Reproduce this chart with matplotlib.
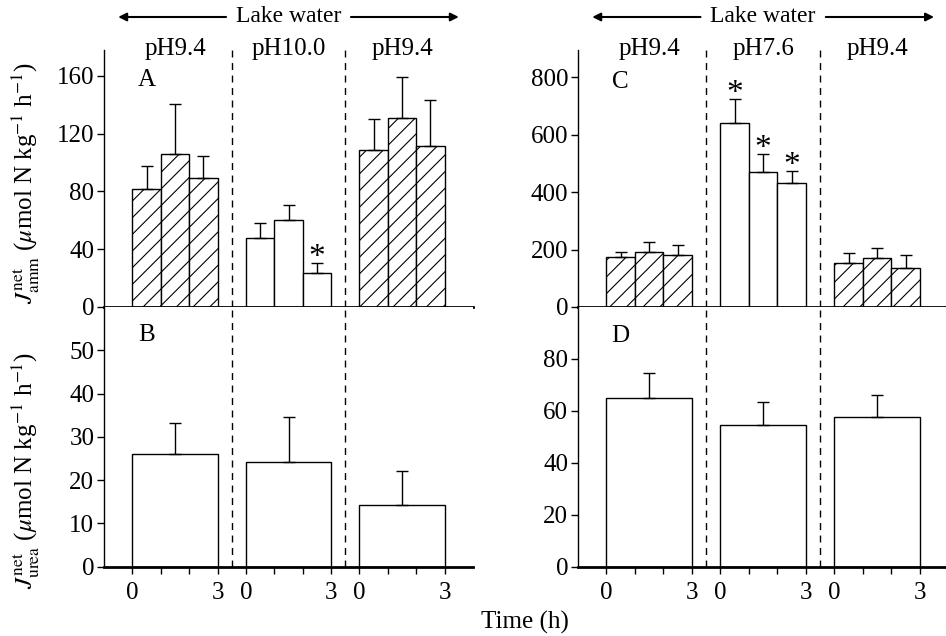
import matplotlib
matplotlib.use("Agg")
import matplotlib.pyplot as plt
import matplotlib.transforms as mtransforms
import numpy as np

plt.rcParams['font.family'] = ['Liberation Serif', 'DejaVu Serif']
plt.rcParams['mathtext.fontset'] = 'stix'
plt.rcParams['hatch.linewidth'] = 0.8

# ---- data ----
seg_labels_left = ["pH9.4", "pH10.0", "pH9.4"]
seg_labels_right = ["pH9.4", "pH7.6", "pH9.4"]

# Panel A: ammonia excretion (3 x 1-h bars per segment)
amm_A = [82, 106, 89, 48, 60.5, 23.3, 109, 131, 111.7]
amm_A_err = [15.5, 34.5, 15.5, 10, 10, 7, 21.5, 28, 31.7]
amm_A_hatched = [True, True, True, False, False, False, True, True, True]
amm_A_star = [False, False, False, False, False, True, False, False, False]

# Panel B: urea excretion (one 3-h bar per segment)
urea_B = [26.0, 24.3, 14.3]
urea_B_err = [7.3, 10.3, 7.7]

# Panel C
amm_C = [173, 190, 181, 639, 471, 432, 152, 169, 137]
amm_C_err = [19, 37, 35, 84, 60, 41, 35, 37, 44]
amm_C_hatched = [True, True, True, False, False, False, True, True, True]
amm_C_star = [False, False, False, True, True, True, False, False, False]

# Panel D
urea_D = [64.8, 54.5, 57.5]
urea_D_err = [9.8, 9.0, 8.5]

seg_offsets = [0, 4, 8]
hour_ticks = [0, 1, 2, 3]

W, H = 946, 636
fig = plt.figure(figsize=(W / 100, H / 100), dpi=100)

def rect(x0, x1, ytop, ybot):
    return [x0 / W, 1 - ybot / H, (x1 - x0) / W, (ybot - ytop) / H]

axA = fig.add_axes(rect(104, 473, 50, 307))
axB = fig.add_axes(rect(104, 473, 307, 566.7))
axC = fig.add_axes(rect(578, 946, 50, 307))
axD = fig.add_axes(rect(578, 946, 307, 566.7))

FS = 18

def style(ax, xmax, bottom_panel):
    ax.set_xlim(-1, xmax)
    for s in ['top', 'right']:
        ax.spines[s].set_visible(False)
    ax.spines['left'].set_linewidth(1.0)
    ax.spines['bottom'].set_linewidth(2.0)
    ax.tick_params(axis='y', direction='out', length=5, width=1, labelsize=FS, pad=2)
    if bottom_panel:
        ticks = [o + h for o in seg_offsets for h in hour_ticks]
        labels = [str(h) if h in (0, 3) else "" for o in seg_offsets for h in hour_ticks]
        ax.set_xticks(ticks)
        ax.set_xticklabels(labels)
        ax.tick_params(axis='x', direction='out', length=5, width=1, labelsize=FS, pad=6)
    else:
        ax.set_xticks([])
    for xv in (3.5, 7.5):
        ax.axvline(xv, color='black', lw=1.0, ls=(0, (5, 4)), zorder=0)

def hourly_bars(ax, vals, errs, hatched, stars, star_pad):
    xs = [o + h + 0.5 for o in seg_offsets for h in range(3)]
    for x, v, e, hb, st in zip(xs, vals, errs, hatched, stars):
        ax.bar(x, v, width=1.0, facecolor='white', edgecolor='black', lw=1.0,
               hatch='//' if hb else None, zorder=2)
        ax.errorbar(x, v, yerr=[[0], [e]], fmt='none', ecolor='black', elinewidth=1.0,
                    capsize=4, capthick=1.0, zorder=3)
        if st:
            ax.text(x, v + e + star_pad, '*', ha='center', va='center', fontsize=24)

def block_bars(ax, vals, errs):
    xs = [o + 1.5 for o in seg_offsets]
    for x, v, e in zip(xs, vals, errs):
        ax.bar(x, v, width=3.0, facecolor='white', edgecolor='black', lw=1.0, zorder=2)
        ax.errorbar(x, v, yerr=[[0], [e]], fmt='none', ecolor='black', elinewidth=1.0,
                    capsize=4, capthick=1.0, zorder=3)

# Panel A
style(axA, 12, False)
axA.set_ylim(0, 178)
axA.set_yticks([0, 40, 80, 120, 160])
hourly_bars(axA, amm_A, amm_A_err, amm_A_hatched, amm_A_star, 4)
axA.text(0.5, 157, 'A', fontsize=FS, ha='center', va='center')

# Panel B
style(axB, 12, True)
axB.set_ylim(0, 60)
axB.set_yticks([0, 10, 20, 30, 40, 50])
block_bars(axB, urea_B, urea_B_err)
axB.text(0.5, 53.5, 'B', fontsize=FS, ha='center', va='center')

# Panel C
style(axC, 11.92, False)
axC.set_ylim(0, 894)
axC.set_yticks([0, 200, 400, 600, 800])
hourly_bars(axC, amm_C, amm_C_err, amm_C_hatched, amm_C_star, 20)
axC.text(0.5, 783, 'C', fontsize=FS, ha='center', va='center')

# Panel D
style(axD, 11.92, True)
axD.set_ylim(0, 100)
axD.set_yticks([0, 20, 40, 60, 80])
block_bars(axD, urea_D, urea_D_err)
axD.text(0.5, 89, 'D', fontsize=FS, ha='center', va='center')

# segment labels and "Lake water" arrows
def header(ax, labels):
    tr = mtransforms.blended_transform_factory(ax.transData, fig.transFigure)
    ylab = 1 - 49 / H
    for o, lab in zip(seg_offsets, labels):
        ax.text(o + 1.5, ylab, lab, transform=tr, ha='center', va='center', fontsize=FS,
                clip_on=False)
    yarr = 1 - 17 / H
    ax.text(5.5, yarr, 'Lake water', transform=tr, ha='center', va='center', fontsize=17,
            clip_on=False)
    ap = dict(arrowstyle='-|>', lw=1.5, color='black', mutation_scale=12,
              shrinkA=0, shrinkB=0)
    ax.annotate('', xy=(-0.5, yarr), xytext=(3.3, yarr), xycoords=tr, textcoords=tr,
                arrowprops=ap, annotation_clip=False)
    ax.annotate('', xy=(11.5, yarr), xytext=(7.7, yarr), xycoords=tr, textcoords=tr,
                arrowprops=ap, annotation_clip=False)

header(axA, seg_labels_left)
header(axC, seg_labels_right)

fig.text(25 / W, 1 - 183 / H,
         r"$J^{\rm net}_{\rm amm}$ ($\mu$mol N kg$^{-1}$ h$^{-1}$)",
         rotation=90, ha='center', va='center', fontsize=FS)
fig.text(25 / W, 1 - 470 / H,
         r"$J^{\rm net}_{\rm urea}$ ($\mu$mol N kg$^{-1}$ h$^{-1}$)",
         rotation=90, ha='center', va='center', fontsize=FS)
fig.text(525 / W, 1 - 622 / H, 'Time (h)', ha='center', va='center', fontsize=FS)

fig.savefig('out.png', dpi=100)
